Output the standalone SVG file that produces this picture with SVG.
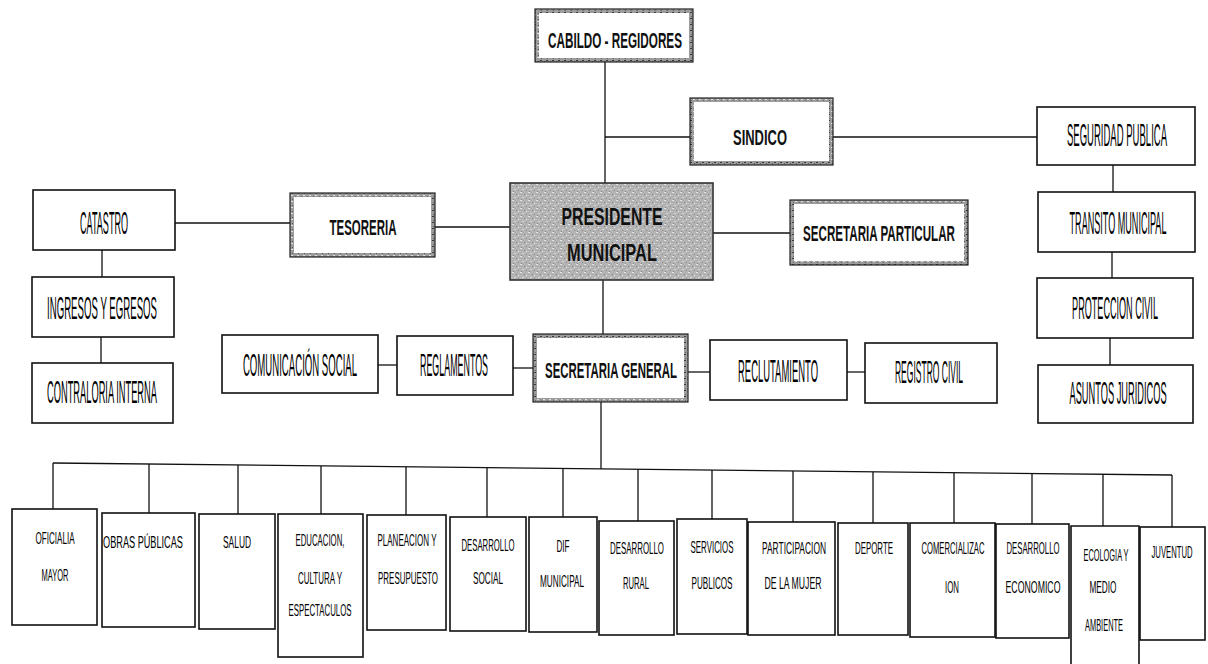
<svg xmlns="http://www.w3.org/2000/svg" width="1208" height="664" viewBox="0 0 1208 664">
<defs>
<pattern id="grain" width="6" height="6" patternUnits="userSpaceOnUse">
<rect width="6" height="6" fill="#9c9c9c"/>
<rect x="0" y="0" width="2" height="1" fill="#3a3a3a"/>
<rect x="3" y="3" width="2" height="1" fill="#e0e0e0"/>
<rect x="4" y="1" width="1" height="1" fill="#555"/>
<rect x="1" y="4" width="1" height="1" fill="#666"/>
</pattern>
<pattern id="pgrain" width="8" height="8" patternUnits="userSpaceOnUse">
<rect width="8" height="8" fill="#b4b4b4"/>
<rect x="0" y="0" width="2" height="1" fill="#e6e6e6"/>
<rect x="4" y="2" width="1" height="1" fill="#7a7a7a"/>
<rect x="2" y="5" width="2" height="1" fill="#d8d8d8"/>
<rect x="6" y="6" width="1" height="1" fill="#888"/>
<rect x="6" y="3" width="1" height="1" fill="#eee"/>
<rect x="1" y="7" width="1" height="1" fill="#8c8c8c"/>
</pattern>
</defs>
<style>
.box{fill:#fff;stroke:#111;stroke-width:1.6}
.hb{fill:#fff;stroke:url(#grain);stroke-width:4}
.ho{fill:none;stroke:#222;stroke-width:1.2}
.c{fill:none;stroke:#111;stroke-width:1.3}
.t{font-family:"Liberation Sans",Arial,sans-serif;fill:#000;text-anchor:middle}
.up{font-size:32px}
.bt{font-size:17px}
.b{font-family:"Liberation Sans",Arial,sans-serif;font-weight:bold;fill:#111;text-anchor:middle;font-size:22px}
.p{font-family:"Liberation Sans",Arial,sans-serif;font-weight:bold;fill:#111;text-anchor:middle;font-size:24px}
</style>
<rect width="1208" height="664" fill="#fff"/>

<g id="connectors">
<path class="c" d="M605 62V183"/>
<path class="c" d="M605 137H690"/>
<path class="c" d="M833 137H1037"/>
<path class="c" d="M713 233H790"/>
<path class="c" d="M435 227H510"/>
<path class="c" d="M175 223H290"/>
<path class="c" d="M102 250V277"/>
<path class="c" d="M101 337V363"/>
<path class="c" d="M603 280V334"/>
<path class="c" d="M513 368H533"/>
<path class="c" d="M378 365H397"/>
<path class="c" d="M688 372H710"/>
<path class="c" d="M847 372H865"/>
<path class="c" d="M1113 165V192"/>
<path class="c" d="M1112 252V278"/>
<path class="c" d="M1110 338V365"/>
<path class="c" d="M601 402V469"/>
<path class="c" d="M53 463L1172 475"/>
<path class="c" d="M53 463V509"/>
<path class="c" d="M149 464V513"/>
<path class="c" d="M238 465V514"/>
<path class="c" d="M321 466V514"/>
<path class="c" d="M406 467V515"/>
<path class="c" d="M487 468V517"/>
<path class="c" d="M563 468V517"/>
<path class="c" d="M638 469V521"/>
<path class="c" d="M712 470V519"/>
<path class="c" d="M793 471V522"/>
<path class="c" d="M873 472V523"/>
<path class="c" d="M954 473V523"/>
<path class="c" d="M1032 473V524"/>
<path class="c" d="M1103 474V526"/>
<path class="c" d="M1172 475V527"/>
</g>

<g id="cabildo">
<rect class="hb" x="537" y="11" width="154" height="49"/>
<rect class="ho" x="535" y="9" width="158" height="53"/>
<text class="b" transform="translate(615 48) scale(0.532 1)" textLength="251.8" lengthAdjust="spacingAndGlyphs">CABILDO - REGIDORES</text>
</g>
<g id="sindico">
<rect class="hb" x="692" y="100" width="139" height="63"/>
<rect class="ho" x="690" y="98" width="143" height="67"/>
<text class="b" transform="translate(760 145) scale(0.589 1)" textLength="91.7" lengthAdjust="spacingAndGlyphs">SINDICO</text>
</g>
<g id="presidente">
<rect x="510" y="183" width="203" height="97" fill="url(#pgrain)" stroke="#333" stroke-width="1.6"/>
<text class="p" transform="translate(612 225) scale(0.658 1)" textLength="153.4" lengthAdjust="spacingAndGlyphs">PRESIDENTE</text>
<text class="p" transform="translate(612 261) scale(0.675 1)" textLength="133.3" lengthAdjust="spacingAndGlyphs">MUNICIPAL</text>
</g>
<g id="sec-particular">
<rect class="hb" x="792" y="202" width="174" height="61"/>
<rect class="ho" x="790" y="200" width="178" height="65"/>
<text class="b" transform="translate(879 241) scale(0.517 1)" textLength="293.8" lengthAdjust="spacingAndGlyphs">SECRETARIA PARTICULAR</text>
</g>
<g id="tesoreria">
<rect class="hb" x="292" y="195" width="141" height="60"/>
<rect class="ho" x="290" y="193" width="145" height="64"/>
<text class="b" transform="translate(363 235) scale(0.522 1)" textLength="128.3" lengthAdjust="spacingAndGlyphs">TESORERIA</text>
</g>
<g id="sec-general">
<rect class="hb" x="535" y="336" width="151" height="64"/>
<rect class="ho" x="533" y="334" width="155" height="68"/>
<text class="b" transform="translate(611 378) scale(0.514 1)" textLength="256.7" lengthAdjust="spacingAndGlyphs">SECRETARIA GENERAL</text>
</g>

<g id="catastro">
<rect class="box" x="33" y="190" width="142" height="60"/>
<text class="t up" transform="translate(104 234) scale(0.276 1)" textLength="174.2" lengthAdjust="spacingAndGlyphs">CATASTRO</text>
</g>
<g id="ingresos">
<rect class="box" x="32" y="277" width="142" height="60"/>
<text class="t up" transform="translate(102 319) scale(0.292 1)" textLength="376.6" lengthAdjust="spacingAndGlyphs">INGRESOS Y EGRESOS</text>
</g>
<g id="contraloria">
<rect class="box" x="32" y="363" width="141" height="60"/>
<text class="t up" transform="translate(102 403) scale(0.289 1)" textLength="380.5" lengthAdjust="spacingAndGlyphs">CONTRALORIA INTERNA</text>
</g>
<g id="comunicacion">
<rect class="box" x="222" y="335" width="156" height="58"/>
<text class="t up" transform="translate(300 376) scale(0.3 1)" textLength="380.5" lengthAdjust="spacingAndGlyphs">COMUNICACIÓN SOCIAL</text>
</g>
<g id="reglamentos">
<rect class="box" x="397" y="336" width="116" height="59"/>
<text class="t up" transform="translate(454 376) scale(0.277 1)" textLength="245.4" lengthAdjust="spacingAndGlyphs">REGLAMENTOS</text>
</g>
<g id="reclutamiento">
<rect class="box" x="710" y="340" width="137" height="60"/>
<text class="t up" transform="translate(778 382) scale(0.292 1)" textLength="273.8" lengthAdjust="spacingAndGlyphs">RECLUTAMIENTO</text>
</g>
<g id="registro-civil">
<rect class="box" x="865" y="343" width="132" height="60"/>
<text class="t up" transform="translate(929 383) scale(0.266 1)" textLength="256.1" lengthAdjust="spacingAndGlyphs">REGISTRO CIVIL</text>
</g>

<g id="seguridad">
<rect class="box" x="1037" y="107" width="158" height="58"/>
<text class="t up" transform="translate(1117 146) scale(0.298 1)" textLength="336" lengthAdjust="spacingAndGlyphs">SEGURIDAD PUBLICA</text>
</g>
<g id="transito">
<rect class="box" x="1038" y="192" width="157" height="60"/>
<text class="t up" transform="translate(1118 234) scale(0.281 1)" textLength="344.9" lengthAdjust="spacingAndGlyphs">TRANSITO MUNICIPAL</text>
</g>
<g id="proteccion">
<rect class="box" x="1037" y="278" width="156" height="60"/>
<text class="t up" transform="translate(1115 319) scale(0.284 1)" textLength="302.3" lengthAdjust="spacingAndGlyphs">PROTECCION CIVIL</text>
</g>
<g id="asuntos">
<rect class="box" x="1038" y="365" width="155" height="58"/>
<text class="t up" transform="translate(1118 404) scale(0.289 1)" textLength="336" lengthAdjust="spacingAndGlyphs">ASUNTOS JURIDICOS</text>
</g>

<g id="oficialia">
<rect class="box" x="12" y="509" width="85" height="116"/>
<text class="t bt" transform="translate(55 544) scale(0.456 1)" textLength="85.6" lengthAdjust="spacingAndGlyphs">OFICIALIA</text>
<text class="t bt" transform="translate(55 581) scale(0.433 1)" textLength="62.3" lengthAdjust="spacingAndGlyphs">MAYOR</text>
</g>
<g id="obras">
<rect class="box" x="102" y="513" width="93" height="114"/>
<text class="t bt" transform="translate(143 548) scale(0.539 1)" textLength="148.3" lengthAdjust="spacingAndGlyphs">OBRAS PÚBLICAS</text>
</g>
<g id="salud">
<rect class="box" x="199" y="514" width="76" height="115"/>
<text class="t bt" transform="translate(237 548) scale(0.494 1)" textLength="56.7" lengthAdjust="spacingAndGlyphs">SALUD</text>
</g>
<g id="educacion">
<rect class="box" x="278" y="514" width="85" height="143"/>
<text class="t bt" transform="translate(320 546) scale(0.459 1)" textLength="106.7" lengthAdjust="spacingAndGlyphs">EDUCACION,</text>
<text class="t bt" transform="translate(320 584) scale(0.457 1)" textLength="96.3" lengthAdjust="spacingAndGlyphs">CULTURA Y</text>
<text class="t bt" transform="translate(320 616) scale(0.457 1)" textLength="137.9" lengthAdjust="spacingAndGlyphs">ESPECTACULOS</text>
</g>
<g id="planeacion">
<rect class="box" x="367" y="515" width="79" height="115"/>
<text class="t bt" transform="translate(407 546) scale(0.47 1)" textLength="125.6" lengthAdjust="spacingAndGlyphs">PLANEACION Y</text>
<text class="t bt" transform="translate(408 584) scale(0.467 1)" textLength="128.4" lengthAdjust="spacingAndGlyphs">PRESUPUESTO</text>
</g>
<g id="des-social">
<rect class="box" x="450" y="517" width="76" height="114"/>
<text class="t bt" transform="translate(488 551) scale(0.456 1)" textLength="116.2" lengthAdjust="spacingAndGlyphs">DESARROLLO</text>
<text class="t bt" transform="translate(488 584) scale(0.481 1)" textLength="62.4" lengthAdjust="spacingAndGlyphs">SOCIAL</text>
</g>
<g id="dif">
<rect class="box" x="529" y="517" width="68" height="115"/>
<text class="t bt" transform="translate(563 552) scale(0.474 1)" textLength="27.4" lengthAdjust="spacingAndGlyphs">DIF</text>
<text class="t bt" transform="translate(562 587) scale(0.466 1)" textLength="94.4" lengthAdjust="spacingAndGlyphs">MUNICIPAL</text>
</g>
<g id="des-rural">
<rect class="box" x="599" y="521" width="75" height="114"/>
<text class="t bt" transform="translate(637 554) scale(0.465 1)" textLength="116.2" lengthAdjust="spacingAndGlyphs">DESARROLLO</text>
<text class="t bt" transform="translate(636 589) scale(0.451 1)" textLength="57.6" lengthAdjust="spacingAndGlyphs">RURAL</text>
</g>
<g id="servicios">
<rect class="box" x="677" y="519" width="70" height="115"/>
<text class="t bt" transform="translate(712 553) scale(0.464 1)" textLength="92.6" lengthAdjust="spacingAndGlyphs">SERVICIOS</text>
<text class="t bt" transform="translate(712 589) scale(0.477 1)" textLength="86" lengthAdjust="spacingAndGlyphs">PUBLICOS</text>
</g>
<g id="participacion">
<rect class="box" x="748" y="522" width="87" height="113"/>
<text class="t bt" transform="translate(794 554) scale(0.484 1)" textLength="132.2" lengthAdjust="spacingAndGlyphs">PARTICIPACION</text>
<text class="t bt" transform="translate(793 589) scale(0.507 1)" textLength="112.4" lengthAdjust="spacingAndGlyphs">DE LA MUJER</text>
</g>
<g id="deporte">
<rect class="box" x="838" y="523" width="70" height="112"/>
<text class="t bt" transform="translate(874 554) scale(0.462 1)" textLength="82.2" lengthAdjust="spacingAndGlyphs">DEPORTE</text>
</g>
<g id="comercializacion">
<rect class="box" x="910" y="523" width="85" height="114"/>
<text class="t bt" transform="translate(953 554) scale(0.451 1)" textLength="139.8" lengthAdjust="spacingAndGlyphs">COMERCIALIZAC</text>
<text class="t bt" transform="translate(952 593) scale(0.463 1)" textLength="30.2" lengthAdjust="spacingAndGlyphs">ION</text>
</g>
<g id="des-economico">
<rect class="box" x="996" y="524" width="73" height="114"/>
<text class="t bt" transform="translate(1033 554) scale(0.456 1)" textLength="116.2" lengthAdjust="spacingAndGlyphs">DESARROLLO</text>
<text class="t bt" transform="translate(1033 593) scale(0.515 1)" textLength="106.7" lengthAdjust="spacingAndGlyphs">ECONOMICO</text>
</g>
<g id="ecologia">
<path class="box" d="M1071 664V526H1139V664"/>
<text class="t bt" transform="translate(1106 561) scale(0.429 1)" textLength="104.9" lengthAdjust="spacingAndGlyphs">ECOLOGIA Y</text>
<text class="t bt" transform="translate(1103 593) scale(0.485 1)" textLength="55.7" lengthAdjust="spacingAndGlyphs">MEDIO</text>
<text class="t bt" transform="translate(1104 631) scale(0.437 1)" textLength="86.9" lengthAdjust="spacingAndGlyphs">AMBIENTE</text>
</g>
<g id="juventud">
<rect class="box" x="1140" y="527" width="65" height="113"/>
<text class="t bt" transform="translate(1172 558) scale(0.452 1)" textLength="90.7" lengthAdjust="spacingAndGlyphs">JUVENTUD</text>
</g>
</svg>
